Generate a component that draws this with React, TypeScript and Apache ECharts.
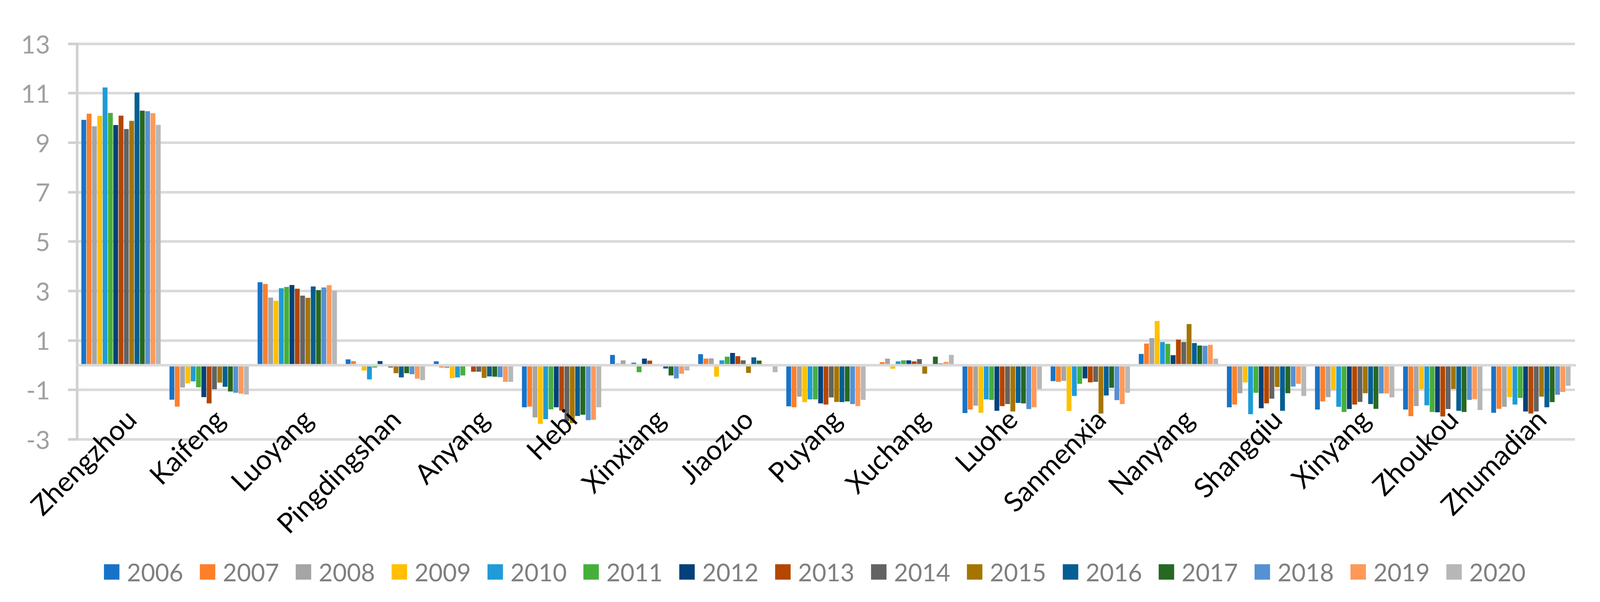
import React, { useEffect, useRef } from "react";
import * as echarts from "echarts";

const cities = [
  "Zhengzhou", "Kaifeng", "Luoyang", "Pingdingshan", "Anyang", "Hebi", "Xinxiang", "Jiaozuo",
  "Puyang", "Xuchang", "Luohe", "Sanmenxia", "Nanyang", "Shangqiu", "Xinyang", "Zhoukou", "Zhumadian",
];

const years = ["2006", "2007", "2008", "2009", "2010", "2011", "2012", "2013", "2014", "2015", "2016", "2017", "2018", "2019", "2020"];

const colors = [
  "#1873C8", "#FE7F2A", "#A5A5A5", "#FFC000", "#1F9BD7", "#46AF3C", "#02417A", "#B44600",
  "#636363", "#A57500", "#055E92", "#266824", "#5591D3", "#FE995A", "#B7B7B7",
];

// values per city, one entry per year 2006..2020
const zhengzhou = [9.92, 10.17, 9.66, 10.08, 11.23, 10.2, 9.71, 10.09, 9.55, 9.88, 11.02, 10.29, 10.27, 10.19, 9.72];
const kaifeng = [-1.4, -1.68, -0.91, -0.74, -0.66, -0.9, -1.3, -1.55, -0.98, -0.71, -0.88, -1.07, -1.12, -1.16, -1.19];
const luoyang = [3.35, 3.28, 2.73, 2.6, 3.11, 3.16, 3.24, 3.09, 2.81, 2.72, 3.18, 3.03, 3.14, 3.23, 3.01];
const pingdingshan = [0.23, 0.16, 0, -0.22, -0.58, -0.1, 0.16, 0, -0.1, -0.33, -0.5, -0.33, -0.37, -0.55, -0.61];
const anyang = [0.15, -0.1, -0.12, -0.53, -0.5, -0.42, 0, -0.27, -0.27, -0.52, -0.46, -0.47, -0.49, -0.68, -0.68];
const hebi = [-1.71, -1.68, -2.12, -2.38, -2.19, -1.79, -1.71, -1.84, -2.27, -2.35, -2.06, -2.01, -2.23, -2.22, -1.71];
const xinxiang = [0.41, 0.06, 0.19, 0, 0.1, -0.29, 0.26, 0.18, 0, 0, -0.14, -0.42, -0.54, -0.35, -0.22];
const jiaozuo = [0.44, 0.26, 0.27, -0.47, 0.19, 0.34, 0.49, 0.36, 0.19, -0.32, 0.31, 0.18, 0, 0, -0.29];
const puyang = [-1.67, -1.71, -1.28, -1.5, -1.39, -1.39, -1.55, -1.6, -1.31, -1.49, -1.5, -1.47, -1.58, -1.66, -1.41];
const xuchang = [0, 0.12, 0.26, -0.15, 0.15, 0.19, 0.19, 0.15, 0.24, -0.35, 0, 0.34, 0.07, 0.13, 0.41];
const luohe = [-1.94, -1.8, -1.64, -1.93, -1.39, -1.41, -1.85, -1.66, -1.58, -1.88, -1.53, -1.55, -1.78, -1.71, -0.97];
const sanmenxia = [-0.65, -0.68, -0.64, -1.86, -1.25, -0.76, -0.54, -0.7, -0.68, -1.96, -1.23, -0.92, -1.42, -1.58, -1.12];
const nanyang = [0.45, 0.87, 1.09, 1.78, 0.93, 0.86, 0.4, 1.03, 0.93, 1.66, 0.89, 0.79, 0.78, 0.82, 0.26];
const shangqiu = [-1.71, -1.6, -1.14, -0.7, -1.99, -1.12, -1.75, -1.55, -1.36, -0.89, -1.85, -1.14, -0.87, -0.76, -1.25];
const xinyang = [-1.8, -1.47, -1.3, -1.01, -1.69, -1.9, -1.78, -1.6, -1.49, -1.14, -1.58, -1.77, -1.15, -1.15, -1.31];
const zhoukou = [-1.8, -2.07, -1.66, -0.97, -1.63, -1.9, -1.91, -2.08, -1.78, -0.97, -1.85, -1.9, -1.41, -1.38, -1.82];
const zhumadian = [-1.93, -1.77, -1.69, -1.3, -1.6, -1.33, -1.88, -1.96, -1.88, -1.28, -1.71, -1.5, -1.2, -1.09, -0.84];

const cityValues = [
  zhengzhou, kaifeng, luoyang, pingdingshan, anyang, hebi, xinxiang, jiaozuo,
  puyang, xuchang, luohe, sanmenxia, nanyang, shangqiu, xinyang, zhoukou, zhumadian,
];

const yMin = -3;
const yMax = 13;
const yStep = 2;

const REF_W = 4345;
const REF_H = 1542;

export default function App() {
  const ref = useRef<HTMLDivElement>(null);

  useEffect(() => {
    if (!ref.current) return;
    document.body.style.margin = "0";
    document.body.style.overflow = "hidden";
    const chart = echarts.init(ref.current, undefined, { renderer: "svg" });
    const W = ref.current.clientWidth || window.innerWidth;
    const H = ref.current.clientHeight || window.innerHeight;
    const sx = W / REF_W;
    const sy = H / REF_H;
    const sf = Math.min(sx, sy);
    const font = "Lato";

    const gTop = 112 * sy;
    const gBottom = 417 * sy;
    const gridH = H - gTop - gBottom;
    const zeroFromBottom = ((0 - yMin) / (yMax - yMin)) * gridH;

    const series = years.map((y, i) => ({
      name: y,
      type: "bar",
      data: cityValues.map((vals) => vals[i]),
      itemStyle: { color: colors[i] },
      barGap: "10%",
      barCategoryGap: "10%",
    }));
    chart.setOption({
      animation: false,
      backgroundColor: "#FFFFFF",
      color: colors,
      grid: { left: 209 * sx, right: 68 * sx, top: gTop, bottom: gBottom, containLabel: false },
      legend: {
        data: years,
        left: 277 * sx,
        top: 1429 * sy,
        itemWidth: 42 * sf,
        itemHeight: 42 * sf,
        itemGap: 45 * sx,
        icon: "rect",
        textStyle: {
          fontFamily: font,
          fontSize: 66 * sf,
          color: "#7F7F7F",
          padding: [0, 0, 0, 15 * sf],
          lineHeight: 42 * sf,
        },
      },
      xAxis: {
        type: "category",
        data: cities,
        z: 3,
        offset: -zeroFromBottom,
        axisLine: { show: true, onZero: false, lineStyle: { color: "#D9D9D9", width: 7 * sf } },
        axisTick: { show: false },
        axisLabel: {
          interval: 0,
          rotate: 45,
          margin: 106 * sf,
          verticalAlign: "top",
          color: "#000000",
          fontFamily: font,
          fontSize: 75 * sf,
          hideOverlap: false,
        },
        splitLine: { show: false },
      },
      yAxis: {
        type: "value",
        min: yMin,
        max: yMax,
        interval: yStep,
        axisLine: { show: true, lineStyle: { color: "#D0D0D0", width: 7 * sf } },
        axisTick: { show: true, length: 24 * sf, lineStyle: { color: "#D0D0D0", width: 7 * sf } },
        axisLabel: { margin: 73 * sf, color: "#A0A0A0", fontFamily: font, fontSize: 68 * sf },
        splitLine: { show: true, lineStyle: { color: "#D9D9D9", width: 7 * sf } },
      },
      series,
    });
    return () => chart.dispose();
  }, []);

  return (
    <div
      ref={ref}
      style={{ position: "fixed", left: 0, top: 0, width: "100vw", height: "100vh", background: "#FFFFFF" }}
    />
  );
}
